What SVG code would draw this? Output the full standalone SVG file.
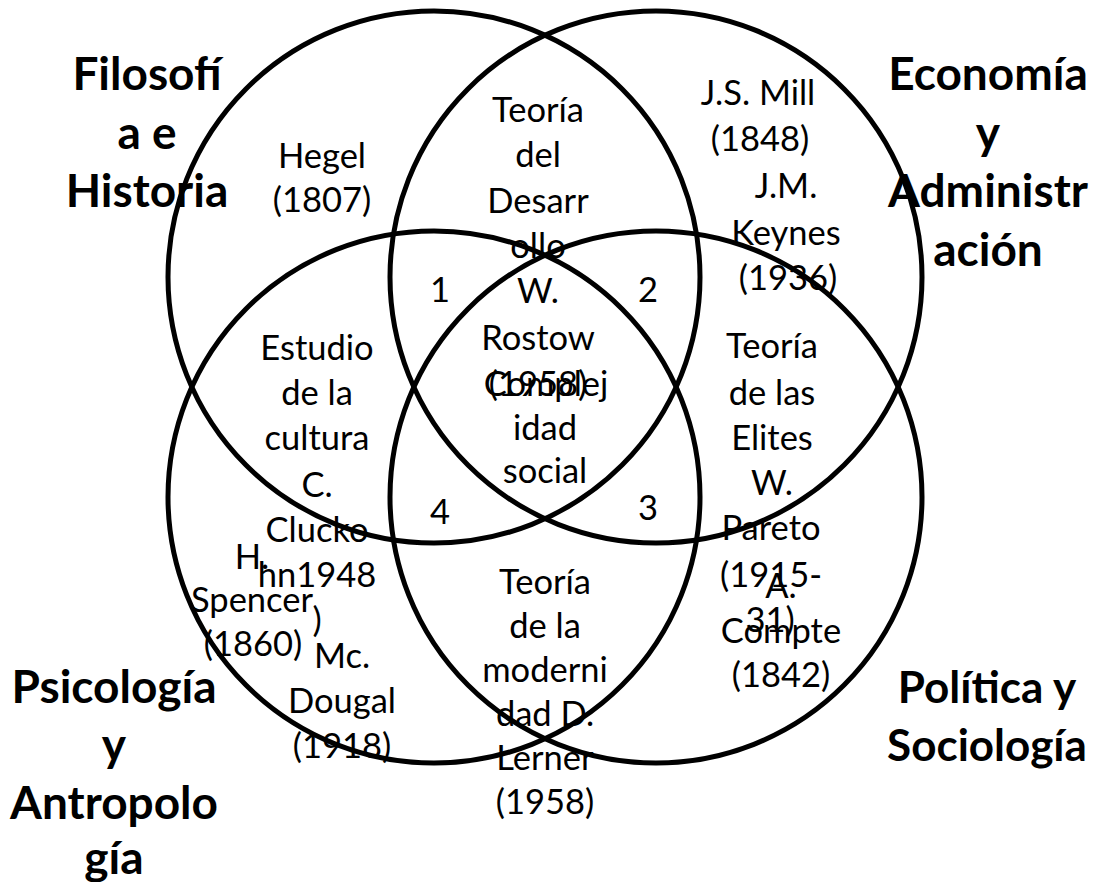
<svg xmlns="http://www.w3.org/2000/svg" width="1094" height="882" viewBox="0 0 1094 882">
<style>
.t{font-family:Lato,"Open Sans","Liberation Sans",sans-serif;font-size:34.5px;fill:#000;text-anchor:middle}
.b{font-family:Lato,"Open Sans","Liberation Sans",sans-serif;font-size:46px;font-weight:bold;fill:#000;text-anchor:middle}
.c{fill:none;stroke:#000;stroke-width:5}
</style>
<rect width="1094" height="882" fill="#fff"/>
<g id="labels">
<g id="label-filosofia" class="b"><text x="147" y="90">Filosofí</text><text x="147" y="149">a e</text><text x="147" y="207">Historia</text></g>
<g id="label-economia" class="b"><text x="988" y="90">Economía</text><text x="988" y="149">y</text><text x="988" y="207">Administr</text><text x="988" y="266">ación</text></g>
<g id="label-psicologia" class="b"><text x="114" y="703">Psicología</text><text x="114" y="761">y</text><text x="114" y="819">Antropolo</text><text x="114" y="874">gía</text></g>
<g id="label-politica" class="b"><text x="987" y="703" font-size="44">Política y</text><text x="987" y="761" font-size="44">Sociología</text></g>
</g>
<g id="texts" class="t">
<g id="hegel"><text x="322" y="168">Hegel</text><text x="322" y="212">(1807)</text></g>
<g id="desarrollo"><text x="538" y="122">Teoría</text><text x="538" y="167">del</text><text x="538" y="213">Desarr</text><text x="538" y="258">ollo</text><text x="538" y="303">W.</text><text x="538" y="350">Rostow</text><text x="538" y="396">(1958)</text></g>
<g id="complejidad"><text x="546" y="396">Complej</text><text x="545" y="440">idad</text><text x="545" y="483">social</text></g>
<g id="mill"><text x="758" y="105">J.S. Mill</text><text x="760" y="151">(1848)</text></g>
<g id="keynes"><text x="786" y="198">J.M.</text><text x="786" y="245">Keynes</text><text x="788" y="290">(1936)</text></g>
<g id="n1"><text x="440" y="302">1</text></g>
<g id="n2"><text x="648" y="302">2</text></g>
<g id="n3"><text x="648" y="520">3</text></g>
<g id="n4"><text x="440" y="524">4</text></g>
<g id="cultura"><text x="317" y="360">Estudio</text><text x="317" y="405">de la</text><text x="317" y="450">cultura</text><text x="317" y="497">C.</text><text x="317" y="542">Clucko</text><text x="317" y="587">hn1948</text><text x="317" y="632">)</text></g>
<g id="spencer"><text x="252" y="569">H.</text><text x="252" y="612">Spencer</text><text x="253" y="656">(1860)</text></g>
<g id="dougal"><text x="342" y="668">Mc.</text><text x="342" y="713">Dougal</text><text x="342" y="758">(1918)</text></g>
<g id="elites"><text x="772" y="358">Teoría</text><text x="772" y="405">de las</text><text x="772" y="450">Elites</text><text x="772" y="495">W.</text><text x="771" y="540">Pareto</text><text x="771" y="587">(1915-</text><text x="770" y="632">31)</text></g>
<g id="compte"><text x="781" y="598">A.</text><text x="781" y="643">Compte</text><text x="781" y="687">(1842)</text></g>
<g id="modernidad"><text x="545" y="594">Teoría</text><text x="545" y="638">de la</text><text x="545" y="682">moderni</text><text x="545" y="726">dad D.</text><text x="545" y="770">Lerner</text><text x="545" y="814">(1958)</text></g>
</g>
<g id="circles">
<circle id="c-filosofia" class="c" cx="434" cy="277" r="266"/>
<circle id="c-economia" class="c" cx="656" cy="277" r="266"/>
<circle id="c-psicologia" class="c" cx="434" cy="497" r="266"/>
<circle id="c-politica" class="c" cx="656" cy="497" r="266"/>
</g>
</svg>
